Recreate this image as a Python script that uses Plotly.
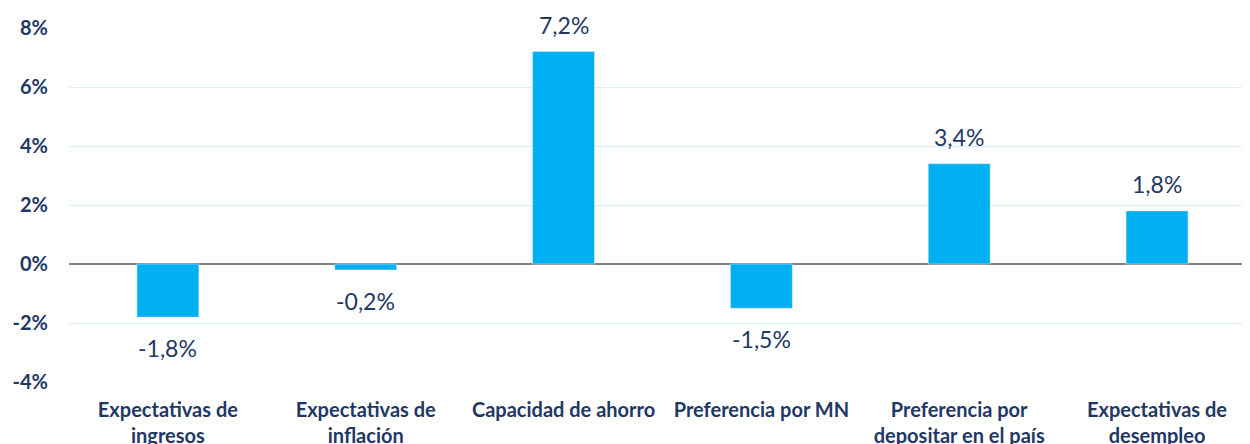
import plotly.graph_objects as go

categories = [
    "Expectativas de<br>ingresos",
    "Expectativas de<br>inflación",
    "Capacidad de ahorro",
    "Preferencia por MN",
    "Preferencia por<br>depositar en el país",
    "Expectativas de<br>desempleo",
]
values = [-1.8, -0.2, 7.2, -1.5, 3.4, 1.8]
y_ticks = [-4, -2, 0, 2, 4, 6, 8]
y_tick_text = [f"{t}%" for t in y_ticks]

navy = "#1F3864"
bar_color = "#00B0F0"
font_family = "Lato, 'Open Sans', sans-serif"

fig = go.Figure()
fig.add_trace(go.Bar(x=categories, y=values, marker_color=bar_color, width=0.313,
                     hoverinfo="x+y"))

# data labels above / below each bar
for cat, v in zip(categories, values):
    fig.add_annotation(x=cat, y=v, text=f"{v:.1f}%".replace(".", ","), showarrow=False,
                       yanchor="middle", yshift=27 if v >= 0 else -31,
                       font=dict(family=font_family, size=23, color=navy))

# page body has an 8px default margin, so the figure is a bit smaller than the window
fig.update_layout(
    width=1242,
    height=436,
    margin=dict(l=61, r=0, t=20, b=62),
    plot_bgcolor="white",
    paper_bgcolor="white",
    showlegend=False,
    font=dict(family=font_family, color=navy),
    xaxis=dict(
        range=[-0.5, 5.47],  # original plot area runs slightly past the right edge
        tickfont=dict(family=font_family, size=20, color=navy, weight="bold"),
        showgrid=False,
        ticks="",
        ticklabelstandoff=14,
        automargin=False,
    ),
    yaxis=dict(
        range=[-4, 8],
        tickvals=y_ticks,
        ticktext=y_tick_text,
        tickfont=dict(family=font_family, size=20, color=navy, weight="bold"),
        showgrid=True,
        gridcolor="#DDEFF6",
        gridwidth=1,
        zeroline=True,
        zerolinecolor="#808080",
        zerolinewidth=2,
        ticklabelstandoff=20,
        automargin=False,
    ),
)

fig.write_html("out.html")
